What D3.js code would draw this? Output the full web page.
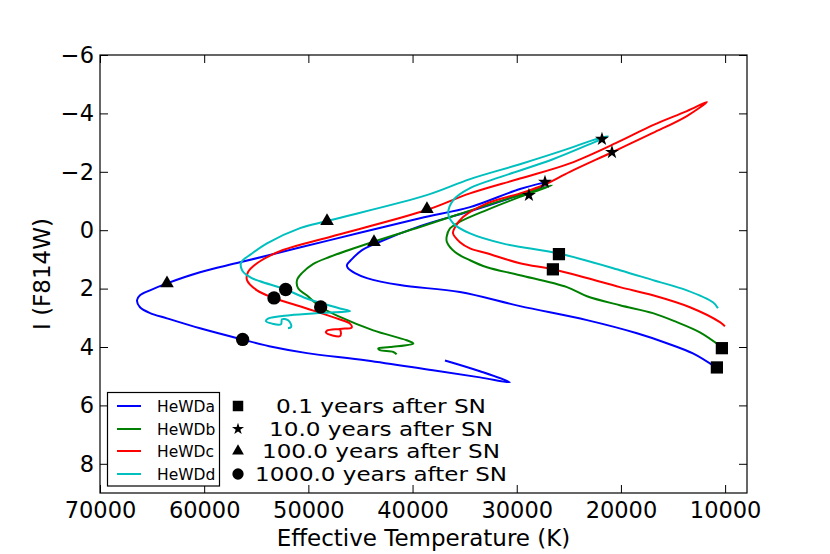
<!DOCTYPE html>
<html>
<head>
<meta charset="utf-8">
<script src="https://cdn.jsdelivr.net/npm/d3@7"></script>
<style>
  html, body { margin: 0; padding: 0; background: #fff; }
  svg { display: block; font-family: "DejaVu Sans", sans-serif; }
</style>
</head>
<body>
<svg id="chart" width="830" height="554"></svg>
<script>
// ---- data: [Teff (K), I (F814W)] along each track ----
const trackNames = ["HeWDa", "HeWDb", "HeWDc", "HeWDd"];
const trackColors = ["#0000ff", "#008000", "#ff0000", "#00bfbf"];

const trackA = [
  [10880,4.70],[13090,4.22],[15590,3.87],[18460,3.53],[23260,3.08],[29690,2.60],[35450,2.12],
  [41210,1.88],[44380,1.64],[45530,1.47],[46200,1.30],[46300,1.20],[45820,0.99],[44850,0.68],
  [43700,0.48],[39290,-0.14],[34490,-0.65],[30650,-1.10],[27490,-1.51],[26910,-1.65],
  [29690,-1.41],[34490,-0.79],[39290,-0.41],[47930,0.34],[56560,1.10],[60400,1.44],[63570,1.82],
  [65200,2.06],[66160,2.23],[66450,2.40],[66160,2.64],[65200,2.84],[63570,3.02],[60400,3.36],
  [56370,3.74],[53400,4.00],[50130,4.21],[44380,4.46],[38040,4.80],[33530,5.04],[30650,5.21],
  [33530,4.83],[36890,4.46]
];
const trackB = [
  [10310,4.01],[12420,3.50],[14630,3.15],[16930,2.84],[20100,2.57],[23260,2.26],[25180,1.95],
  [29690,1.54],[32860,1.27],[34490,1.03],[35930,0.75],[36700,0.41],[36730,0.23],[36410,-0.06],
  [35450,-0.29],[32890,-0.69],[29690,-1.14],[26620,-1.54],
  [29690,-1.21],[34490,-0.67],[39290,-0.11],[43700,0.39],[47930,0.91],[49560,1.16],[50620,1.47],
  [51090,1.71],[50970,2.00],[50160,2.23],[48820,2.63],[46970,2.97],[43770,3.43],[40570,3.77],
  [39930,3.88],[42170,4.00],[43290,4.05],[43130,4.11],[41850,4.17],[41530,4.25]
];
const trackC = [
  [10020,3.29],[10500,3.15],[13380,2.64],[16930,2.23],[20100,1.95],[23260,1.64],[26530,1.34],
  [29690,1.13],[32860,0.79],[34490,0.62],[35450,0.41],[36120,0.10],[35930,-0.10],[35160,-0.45],
  [32860,-0.92],[29690,-1.26],[27460,-1.54],[24900,-2.00],[20860,-2.67],[16930,-3.33],
  [13670,-3.91],[11750,-4.39],
  [13670,-4.08],[16930,-3.60],[20100,-3.05],[24900,-2.29],[29690,-1.77],[34490,-1.26],
  [38650,-0.69],[47930,0.23],[52440,0.68],[54930,1.13],[55800,1.44],[55890,1.71],[54930,2.06],
  [53300,2.32],[50160,2.68],[46970,3.06],[46010,3.20],[45840,3.33],[46970,3.38],[48210,3.44],
  [48310,3.51],[46970,3.63],[46870,3.53],[46970,3.39]
];
const trackD = [
  [10690,2.67],[11170,2.47],[13670,2.06],[16930,1.71],[20100,1.37],[25920,0.80],[31290,0.46],
  [34490,0.11],[36090,-0.23],[36570,-0.57],[36090,-1.03],[34490,-1.44],[31320,-1.85],
  [26530,-2.43],[22980,-2.95],[21250,-3.22],
  [22980,-3.05],[24890,-2.81],[29690,-2.26],[34490,-1.75],[38650,-1.20],[47930,-0.34],
  [50800,-0.07],[53970,0.45],[55500,0.82],[56450,1.10],[56350,1.38],[55600,1.61],[54640,1.75],
  [52180,2.03],[50160,2.34],[46970,2.68],[46010,2.77],[48600,2.83],[51770,2.91],[53880,3.03],
  [54070,3.12],[53490,3.20],[52630,3.22],[52530,3.05],[51960,3.08],[51670,3.22],[51670,3.32],
  [51960,3.36]
];

// markers at epochs after SN, one per track (a, b, c, d)
const epochLabels = ["0.1 years after SN", "10.0 years after SN", "100.0 years after SN", "1000.0 years after SN"];
const epoch01 = [[10790,4.70],[10310,4.04],[26530,1.34],[25950,0.82]];
const epoch10 = [[27290,-1.65],[28830,-1.20],[20860,-2.67],[21820,-3.12]];
const epoch100 = [[63570,1.82],[43700,0.41],[38620,-0.72],[48210,-0.31]];
const epoch1000 = [[56310,3.74],[48820,2.63],[53300,2.32],[52180,2.03]];

const xTicks = [70000, 60000, 50000, 40000, 30000, 20000, 10000];
const yTicks = [-6, -4, -2, 0, 2, 4, 6, 8];

// ---- layout ----
const L = 100, R = 747, T = 55, B = 493;
const svg = d3.select("#chart");
const x = d3.scaleLinear().domain([70000, 7900]).range([L, R]);
const y = d3.scaleLinear().domain([-6, 9]).range([T, B]);

const tickFont = 22.5;
function styleAxis(g) {
  g.select(".domain").remove();
  g.selectAll(".tick line").attr("stroke", "#000").attr("stroke-width", 1);
  g.selectAll(".tick text").attr("fill", "#000").attr("font-size", tickFont)
    .attr("font-family", "DejaVu Sans, sans-serif");
}
const fmtY = d3.format("d");

svg.append("g").attr("transform", `translate(0,${B})`)
  .call(d3.axisBottom(x).tickValues(xTicks).tickSize(-8).tickPadding(9).tickFormat(d3.format("d")))
  .call(styleAxis);
svg.append("g").attr("transform", `translate(0,${T})`)
  .call(d3.axisTop(x).tickValues(xTicks).tickSize(-8).tickFormat(""))
  .call(styleAxis);
svg.append("g").attr("transform", `translate(${L},0)`)
  .call(d3.axisLeft(y).tickValues(yTicks).tickSize(-8).tickPadding(6).tickFormat(fmtY))
  .call(styleAxis);
svg.append("g").attr("transform", `translate(${R},0)`)
  .call(d3.axisRight(y).tickValues(yTicks).tickSize(-8).tickFormat(""))
  .call(styleAxis);

// clip
svg.append("clipPath").attr("id", "clip").append("rect")
  .attr("x", L).attr("y", T).attr("width", R - L).attr("height", B - T);

const plot = svg.append("g").attr("clip-path", "url(#clip)");
const line = d3.line().x(d => x(d[0])).y(d => y(d[1])).curve(d3.curveCatmullRom.alpha(0.5));
const tracks = [trackA, trackB, trackC, trackD];
tracks.forEach((t, i) => {
  plot.append("path").datum(t).attr("d", line)
    .attr("fill", "none").attr("stroke", trackColors[i]).attr("stroke-width", 2)
    .attr("stroke-linejoin", "round").attr("stroke-linecap", "butt");
});

// markers
const symSquare = d3.symbol().type(d3.symbolSquare);
const symStar = d3.symbol().type(d3.symbolStar);
const symTri = d3.symbol().type(d3.symbolTriangle);
const symCircle = d3.symbol().type(d3.symbolCircle);
const epochSets = [
  {data: epoch01, sym: symSquare, size: 150},
  {data: epoch10, sym: symStar, size: 60},
  {data: epoch100, sym: symTri, size: 80},
  {data: epoch1000, sym: symCircle, size: 140}
];
epochSets.forEach(s => {
  plot.selectAll(null).data(s.data).enter().append("path")
    .attr("d", s.sym.size(s.size)())
    .attr("transform", d => `translate(${x(d[0])},${y(d[1])})`)
    .attr("fill", "#000");
});

// frame
svg.append("rect").attr("x", L).attr("y", T).attr("width", R - L).attr("height", B - T)
  .attr("fill", "none").attr("stroke", "#000").attr("stroke-width", 1.2);

// legend 1 (tracks)
const legY = [406, 429, 451, 474];
const leg = svg.append("g");
leg.append("rect").attr("x", 107.5).attr("y", 392.5).attr("width", 112).attr("height", 93.5)
  .attr("fill", "#fff").attr("stroke", "#000").attr("stroke-width", 1.2);
trackNames.forEach((n, i) => {
  leg.append("line").attr("x1", 117).attr("x2", 141).attr("y1", legY[i]).attr("y2", legY[i])
    .attr("stroke", trackColors[i]).attr("stroke-width", 2);
  leg.append("text").attr("x", 157).attr("y", legY[i]).attr("dy", "0.36em")
    .attr("font-size", 15.5).attr("fill", "#000").text(n);
});

// legend 2 (epochs)
const legSizes = [110, 45, 60, 100];
const legWidths = [210, 224, 238, 252];
epochSets.forEach((s, i) => {
  leg.append("path").attr("d", s.sym.size(legSizes[i])())
    .attr("transform", `translate(238,${legY[i]})`).attr("fill", "#000");
  leg.append("text").attr("x", 381 - legWidths[i] / 2).attr("y", legY[i]).attr("dy", "0.36em")
    .attr("font-size", 19.4).attr("fill", "#000")
    .attr("textLength", legWidths[i]).attr("lengthAdjust", "spacingAndGlyphs")
    .text(epochLabels[i]);
});

// axis labels
svg.append("text").attr("x", (L + R) / 2).attr("y", 546).attr("text-anchor", "middle")
  .attr("font-size", 23).attr("fill", "#000").text("Effective Temperature (K)");
svg.append("text").attr("transform", `translate(50,${(T + B) / 2}) rotate(-90)`)
  .attr("text-anchor", "middle").attr("font-size", 23).attr("fill", "#000").text("I (F814W)");
</script>
</body>
</html>
